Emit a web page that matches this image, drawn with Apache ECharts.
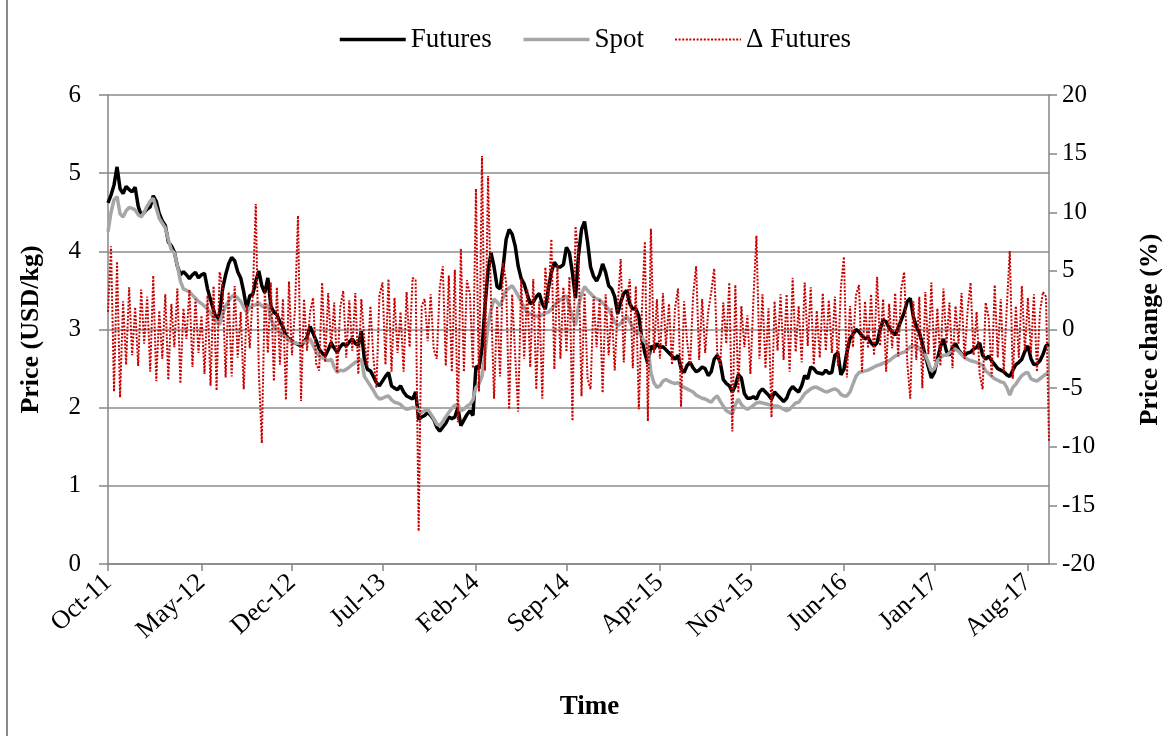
<!DOCTYPE html>
<html>
<head>
<meta charset="utf-8">
<script src="https://cdn.jsdelivr.net/npm/echarts@6/dist/echarts.min.js"></script>
<style>
html,body{margin:0;padding:0;background:#fff;overflow:hidden;width:1171px;height:736px;}
#chart{width:1171px;height:736px;}
</style>
</head>
<body>
<div id="chart"></div>
<script>
// Weekly observations, first week: 2011-10-03
const startDate = '2011-10-03';
const tickMonths = ['Oct-11','May-12','Dec-12','Jul-13','Feb-14','Sep-14','Apr-15','Nov-15','Jun-16','Jan-17','Aug-17'];
const leftTicks = [0,1,2,3,4,5,6];
const rightTicks = [-20,-15,-10,-5,0,5,10,15,20];

// Futures price (USD/kg)
const futures = [
4.62,4.72,4.85,5.08,4.80,4.74,4.83,4.79,4.76,4.82,
4.58,4.46,4.50,4.54,4.57,4.71,4.64,4.48,4.39,4.33,
4.12,4.07,3.99,3.81,3.70,3.74,3.70,3.65,3.70,3.73,
3.66,3.70,3.72,3.52,3.38,3.25,3.12,3.20,3.52,3.70,
3.84,3.92,3.88,3.74,3.66,3.48,3.26,3.43,3.45,3.62,
3.75,3.56,3.47,3.66,3.30,3.22,3.19,3.10,3.03,2.92,
2.88,2.85,2.83,2.81,2.79,2.84,2.90,3.04,2.95,2.86,
2.75,2.70,2.66,2.74,2.83,2.76,2.71,2.78,2.82,2.79,
2.84,2.88,2.82,2.80,2.98,2.62,2.49,2.47,2.40,2.32,
2.28,2.34,2.40,2.45,2.28,2.25,2.23,2.28,2.20,2.15,
2.13,2.11,2.20,1.85,1.88,1.90,1.94,1.90,1.85,1.75,
1.70,1.75,1.80,1.88,1.86,1.88,2.00,1.77,1.84,1.91,
1.96,1.90,2.53,2.50,2.75,3.30,3.75,3.98,3.80,3.55,
3.52,3.80,4.15,4.28,4.22,4.07,3.81,3.65,3.58,3.45,
3.33,3.35,3.42,3.46,3.33,3.26,3.52,3.73,3.86,3.80,
3.80,3.83,4.05,3.98,3.72,3.40,3.95,4.28,4.38,4.12,
3.80,3.68,3.62,3.70,3.84,3.73,3.56,3.52,3.42,3.20,
3.35,3.46,3.50,3.33,3.26,3.27,3.17,2.88,2.70,2.56,
2.79,2.75,2.82,2.77,2.78,2.74,2.70,2.66,2.62,2.67,
2.50,2.45,2.54,2.58,2.51,2.46,2.48,2.52,2.50,2.41,
2.46,2.62,2.67,2.58,2.36,2.31,2.28,2.20,2.28,2.42,
2.38,2.18,2.12,2.12,2.14,2.11,2.20,2.24,2.20,2.16,
2.11,2.20,2.16,2.12,2.08,2.12,2.22,2.27,2.23,2.20,
2.28,2.41,2.37,2.52,2.50,2.45,2.44,2.43,2.48,2.44,
2.45,2.67,2.70,2.42,2.49,2.71,2.88,2.94,3.00,2.97,
2.92,2.88,2.90,2.83,2.79,2.83,3.00,3.12,3.10,3.02,
2.97,2.93,3.02,3.12,3.22,3.36,3.40,3.17,3.04,2.96,
2.82,2.66,2.52,2.38,2.45,2.62,2.78,2.88,2.72,2.67,
2.77,2.82,2.74,2.69,2.67,2.70,2.71,2.75,2.77,2.83,
2.67,2.62,2.66,2.60,2.55,2.50,2.48,2.46,2.42,2.40,
2.48,2.55,2.58,2.62,2.72,2.79,2.63,2.55,2.56,2.60,
2.68,2.79,2.81
];

// Spot price (USD/kg)
const spot = [
4.25,4.50,4.66,4.70,4.48,4.44,4.52,4.56,4.55,4.53,
4.47,4.44,4.50,4.58,4.64,4.68,4.55,4.42,4.36,4.30,
4.15,4.02,3.98,3.82,3.62,3.52,3.50,3.48,3.44,3.40,
3.36,3.33,3.30,3.26,3.22,3.15,3.10,3.06,3.20,3.30,
3.36,3.42,3.44,3.40,3.36,3.28,3.22,3.28,3.30,3.32,
3.34,3.30,3.28,3.32,3.15,3.04,3.00,2.96,2.93,2.90,
2.86,2.84,2.83,2.82,2.82,2.84,2.86,2.88,2.80,2.72,
2.66,2.64,2.62,2.60,2.62,2.52,2.45,2.48,2.47,2.49,
2.52,2.55,2.58,2.60,2.62,2.40,2.34,2.28,2.22,2.15,
2.11,2.12,2.14,2.15,2.10,2.07,2.06,2.04,2.00,1.98,
1.99,2.00,2.00,1.96,1.94,1.96,1.98,1.92,1.86,1.79,
1.77,1.82,1.88,1.94,1.99,2.03,2.04,1.96,1.98,2.02,
2.04,2.10,2.26,2.30,2.40,2.70,3.05,3.25,3.39,3.35,
3.30,3.40,3.50,3.53,3.56,3.50,3.43,3.36,3.28,3.22,
3.20,3.18,3.17,3.17,3.19,3.21,3.22,3.26,3.31,3.35,
3.38,3.41,3.43,3.30,3.15,3.05,3.30,3.45,3.55,3.50,
3.46,3.42,3.39,3.38,3.34,3.30,3.26,3.18,3.10,3.04,
3.08,3.13,3.17,3.10,3.02,2.96,2.96,2.90,2.84,2.79,
2.45,2.32,2.26,2.28,2.34,2.36,2.34,2.32,2.31,2.32,
2.28,2.26,2.24,2.22,2.20,2.16,2.14,2.12,2.11,2.09,
2.07,2.12,2.15,2.08,2.02,1.96,1.94,1.92,2.04,2.11,
2.04,2.00,1.98,2.00,2.03,2.06,2.07,2.06,2.05,2.04,
2.03,2.02,2.02,2.00,1.98,1.96,1.98,2.02,2.06,2.07,
2.12,2.18,2.21,2.24,2.26,2.26,2.24,2.22,2.20,2.21,
2.23,2.24,2.22,2.17,2.15,2.15,2.20,2.30,2.40,2.45,
2.46,2.47,2.48,2.50,2.52,2.54,2.55,2.57,2.58,2.60,
2.63,2.66,2.68,2.70,2.71,2.74,2.78,2.79,2.79,2.76,
2.70,2.67,2.58,2.47,2.50,2.60,2.64,2.67,2.67,2.70,
2.72,2.75,2.72,2.68,2.64,2.62,2.60,2.59,2.58,2.56,
2.54,2.47,2.44,2.40,2.37,2.35,2.33,2.32,2.26,2.16,
2.26,2.30,2.36,2.41,2.44,2.45,2.37,2.35,2.34,2.37,
2.40,2.43,2.44
];

// Weekly futures price change (%)
const dFutures = [
1.5,7.1,-5.3,5.8,-5.8,2.4,-3.0,3.6,-2.2,1.9,
-3.1,3.4,-1.2,2.8,-3.6,4.6,-4.4,1.6,-2.5,3.0,
-4.3,2.2,-1.5,3.5,-4.6,1.8,-0.8,3.4,-3.2,2.6,
-2.0,1.2,-3.8,2.9,-4.8,3.7,-5.2,4.9,3.6,-4.1,
3.2,-4.0,3.7,-2.4,1.5,-5.1,2.1,-1.6,3.0,10.7,
-3.5,-9.7,3.4,-2.0,4.0,-4.4,3.6,-3.0,2.6,-6.0,
4.1,-2.2,1.8,9.7,-6.1,2.6,-1.8,1.5,2.7,-2.9,
-3.5,4.0,-2.8,3.1,-1.6,2.3,-3.7,1.9,3.3,-2.4,
2.5,-1.8,3.1,-3.8,2.6,-0.9,-3.1,2.0,-2.4,-5.0,
2.9,4.0,-3.0,4.3,-3.6,2.7,-2.0,1.5,-3.6,3.2,
-1.5,4.4,4.2,-17.2,2.0,2.6,-1.0,3.0,-1.7,-2.5,
3.6,5.4,-3.1,4.6,-3.6,5.1,-7.9,6.9,-3.6,4.2,
3.0,-3.3,12.0,-5.3,14.8,-3.5,13.1,2.5,-5.9,2.0,
-4.0,5.7,4.0,-6.8,3.0,-2.2,-7.0,4.3,-2.5,3.5,
-3.2,4.3,-5.1,2.4,-5.9,5.3,2.2,7.7,-3.4,5.5,
-2.5,3.6,-1.9,4.5,-7.8,8.8,6.2,-5.7,3.1,-4.2,
-5.1,2.8,-1.5,2.6,-5.4,3.0,-2.2,1.8,-3.5,2.0,
6.0,-2.8,2.5,4.3,-3.3,3.7,-6.8,1.4,7.5,-7.8,
8.6,-2.0,2.6,-2.5,3.1,-1.4,2.2,-3.0,1.8,3.5,
-6.6,2.4,-1.0,-3.1,2.9,5.4,-2.6,2.6,-2.0,1.5,
3.2,5.2,-2.0,-3.1,2.3,-1.2,4.0,-8.7,3.8,-5.4,
2.0,-1.5,1.2,-3.8,2.6,8.0,-2.5,3.0,-3.3,1.8,
-7.5,2.4,-1.8,3.0,-2.6,3.0,-3.6,4.4,-1.9,2.0,
-2.8,4.0,-1.4,3.6,-3.0,1.6,-2.4,3.1,-1.8,2.5,
-2.0,2.8,-3.1,3.6,6.2,-4.1,2.0,-1.5,2.9,3.8,
-3.6,2.4,-1.6,3.0,-2.2,4.5,-1.4,2.6,-3.6,2.2,
-1.6,3.1,-2.3,3.5,4.9,-2.8,-5.9,2.4,-2.6,2.8,
-5.0,3.2,-2.1,4.0,-2.7,1.8,-3.1,3.5,-1.2,2.3,
-3.3,2.0,-1.2,3.1,-2.5,1.6,4.0,-2.2,1.5,-3.8,
-5.1,2.3,1.0,-4.0,3.8,-2.4,2.6,-3.6,1.9,6.7,
-4.2,2.0,-2.4,3.7,-1.8,2.7,-2.0,3.0,-3.6,1.5,
3.2,2.8,-9.5
];

// Weekly date categories
const MONTHS = ['Jan','Feb','Mar','Apr','May','Jun','Jul','Aug','Sep','Oct','Nov','Dec'];
const categories = [];
const tickIdx = new Set();
(function(){
  const d0 = new Date(startDate + 'T00:00:00Z');
  let prev = null;
  for (let i = 0; i < futures.length; i++) {
    const d = new Date(d0.getTime() + i * 7 * 86400000);
    const lab = MONTHS[d.getUTCMonth()] + '-' + String(d.getUTCFullYear()).slice(2);
    categories.push(lab);
    if (lab !== prev && tickMonths.indexOf(lab) >= 0) tickIdx.add(i);
    prev = lab;
  }
})();

const FONT = '"Liberation Serif", "Times New Roman", serif';
const axisGray = '#868686';

const chart = echarts.init(document.getElementById('chart'), null, {renderer: 'canvas', width: 1171, height: 736});
chart.setOption({
  animation: false,
  backgroundColor: '#ffffff',
  textStyle: {fontFamily: FONT, color: '#000'},
  graphic: [{
    type: 'line', silent: true,
    shape: {x1: 7, y1: 0, x2: 7, y2: 736},
    style: {stroke: '#8a8a8a', lineWidth: 2}
  }],
  legend: {
    top: 21, left: 333,
    itemWidth: 66, itemHeight: 12, itemGap: 30,
    itemStyle: {opacity: 0},
    lineStyle: {width: 'inherit'},
    textStyle: {fontFamily: FONT, fontSize: 27, color: '#000'},
    data: ['Futures', 'Spot', 'Δ Futures']
  },
  grid: {left: 108, right: 118, top: 95, bottom: 172, containLabel: false},
  xAxis: {
    type: 'category',
    data: categories,
    boundaryGap: false,
    name: 'Time',
    nameLocation: 'middle',
    nameGap: 130,
    nameTextStyle: {fontFamily: FONT, fontSize: 27, fontWeight: 'bold', color: '#000', padding: [0, 0, 0, 22]},
    axisLine: {lineStyle: {color: axisGray, width: 1.5}},
    axisTick: {show: true, length: 7, lineStyle: {color: axisGray, width: 1.5},
      interval: function(i){ return tickIdx.has(i); }},
    axisLabel: {
      interval: function(i){ return tickIdx.has(i); },
      rotate: 42, margin: 15,
      fontFamily: FONT, fontSize: 26, color: '#000'
    },
    splitLine: {show: false}
  },
  yAxis: [{
    type: 'value', min: 0, max: 6, interval: 1,
    name: 'Price (USD/kg)', nameLocation: 'middle', nameGap: 64,
    nameTextStyle: {fontFamily: FONT, fontSize: 26, fontWeight: 'bold', color: '#000'},
    axisLine: {show: true, lineStyle: {color: axisGray, width: 1.5}},
    axisTick: {show: true, length: 9, lineStyle: {color: axisGray, width: 1.5}},
    axisLabel: {fontFamily: FONT, fontSize: 25, color: '#000', margin: 27},
    splitLine: {show: true, lineStyle: {color: '#8c8c8c', width: 1.5}}
  }, {
    type: 'value', min: -20, max: 20, interval: 5,
    name: 'Price change (%)', nameLocation: 'middle', nameGap: 88,
    nameRotate: 90,
    nameTextStyle: {fontFamily: FONT, fontSize: 26, fontWeight: 'bold', color: '#000'},
    axisLine: {show: true, lineStyle: {color: axisGray, width: 1.5}},
    axisTick: {show: true, length: 8, lineStyle: {color: axisGray, width: 1.5}},
    axisLabel: {fontFamily: FONT, fontSize: 25, color: '#000', margin: 13},
    splitLine: {show: false}
  }],
  series: [{
    name: 'Futures', type: 'line', yAxisIndex: 0, data: futures,
    symbol: 'none', smooth: false,
    lineStyle: {color: '#000000', width: 3.5},
    itemStyle: {color: '#000000'}, z: 2
  }, {
    name: 'Spot', type: 'line', yAxisIndex: 0, data: spot,
    symbol: 'none', smooth: false,
    lineStyle: {color: '#a6a6a6', width: 3.5},
    itemStyle: {color: '#a6a6a6'}, z: 3
  }, {
    name: 'Δ Futures', type: 'line', yAxisIndex: 1, data: dFutures,
    symbol: 'none', smooth: false,
    lineStyle: {color: '#c80000', width: 2, type: [2, 1.6]},
    itemStyle: {color: '#c80000'}, z: 4
  }]
});
</script>
</body>
</html>
